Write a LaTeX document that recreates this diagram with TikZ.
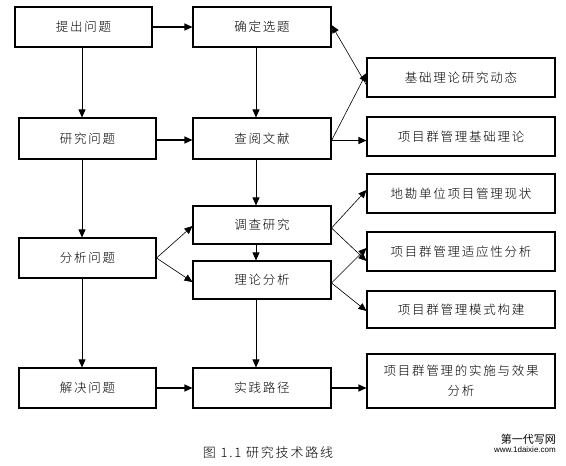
\documentclass[tikz,border=0pt]{standalone}
\usepackage{fontspec}
\usetikzlibrary{arrows.meta,calc}
\newfontfamily\cjk[LetterSpace=14]{Noto Sans CJK SC Light}
\newfontfamily\cjkplain{Noto Sans CJK SC}
\newfontfamily\urlfont{Liberation Sans}
\begin{document}
\begin{tikzpicture}[x=1pt,y=-1pt,
  box/.style={draw,line width=1.1pt,inner sep=0pt,minimum height=40pt,font=\cjk\fontsize{12.5}{20}\selectfont,align=center},
  lbox/.style={box,minimum width=137pt},
  mbox/.style={box,minimum width=138pt},
  rbox/.style={box,minimum width=188pt},
  harr/.style={line width=1.3pt,-{Triangle[length=8pt,width=7pt]}},
  varr/.style={line width=0.8pt,-{Triangle[length=8pt,width=7pt]}},
  darr/.style={line width=0.6pt,-{Triangle[length=8pt,width=7pt]}}]
\useasboundingbox (0,0) rectangle (566,466);
\coordinate (xl) at (82,0);
\coordinate (xm) at (256,0);
% left column
\node[lbox] (p1) at (83.5,27) {提出问题};
\node[lbox,minimum height=41pt] (p2) at (87.5,138.5) {研究问题};
\node[lbox] (p3) at (87.5,258) {分析问题};
\node[lbox] (p4) at (87.5,388) {解决问题};
% middle column
\node[mbox] (m1) at (262,27) {确定选题};
\node[mbox,minimum height=41pt] (m2) at (262,138.5) {查阅文献};
\node[mbox,minimum height=38pt] (m3) at (262,225) {调查研究};
\node[mbox,minimum height=38pt] (m4) at (262,280) {理论分析};
\node[mbox] (m5) at (262,388) {实践路径};
% right column
\node[rbox,minimum height=39pt] (r1) at (461,77.5) {基础理论研究动态};
\node[rbox,minimum height=39pt] (r2) at (461,136.5) {项目群管理基础理论};
\node[rbox,minimum height=39pt] (r3) at (461,193.5) {地勘单位项目管理现状};
\node[rbox,minimum height=39pt] (r4) at (461,251.5) {项目群管理适应性分析};
\node[rbox,minimum height=37pt] (r5) at (461,309.5) {项目群管理模式构建};
\node[rbox,minimum height=54pt] (r6) at (461,381) {项目群管理的实施与效果\\分析};
% vertical arrows
\draw[varr] (p1.south -| xl) -- (p2.north -| xl);
\draw[varr] (p2.south -| xl) -- (p3.north -| xl);
\draw[varr] (p3.south -| xl) -- (p4.north -| xl);
\draw[varr] (m1.south -| xm) -- (m2.north -| xm);
\draw[varr] (m2.south -| xm) -- (m3.north -| xm);
\draw[varr] (m3.south -| xm) -- (m4.north -| xm);
\draw[varr] (m4.south -| xm) -- (m5.north -| xm);
% horizontal arrows
\draw[harr] (p1.east) -- (m1.west);
\draw[harr] ([yshift=-1.5pt]p2.east) -- ([yshift=-1.5pt]m2.west);
\draw[harr] (p4.east) -- (m5.west);
\draw[harr] (m5.east) -- (m5.east -| r6.west);
\draw[harr] ([yshift=-2pt]m2.east) -- ([yshift=-2pt]m2.east -| r2.west);
% diagonal arrows
\draw[darr] ([yshift=-7.5pt]r1.west) -- ([yshift=2pt]m1.east);
\draw[darr] ([yshift=-2pt]m2.east) -- ([yshift=4.5pt]r1.west);
\draw[darr] (p3.east) -- ([yshift=-1pt]m3.west);
\draw[darr] (p3.east) -- ([yshift=-2pt]m4.west);
\draw[darr] ([yshift=-3pt]m3.east) -- ([yshift=3.5pt]r3.west);
\draw[darr] ([yshift=-3pt]m3.east) -- ([yshift=-9.5pt]r4.west);
\draw[darr] ([yshift=-3pt]m4.east) -- ([yshift=3.5pt]r4.west);
\draw[darr] ([yshift=-3pt]m4.east) -- ([yshift=-1.5pt]r5.west);
% caption and mark
\node[font=\cjk\fontsize{13}{14}\selectfont] (cap) at (268,453) {图 1.1 研究技术路线};
\node[font=\cjkplain\fontsize{11}{12}\selectfont,anchor=east,inner sep=0pt] (wm1) at (556,439) {第一代写网};
\node[font=\urlfont\fontsize{8}{9}\selectfont,anchor=east,inner sep=0pt] (wm2) at (556,450) {www.1daixie.com};
\end{tikzpicture}
\end{document}
